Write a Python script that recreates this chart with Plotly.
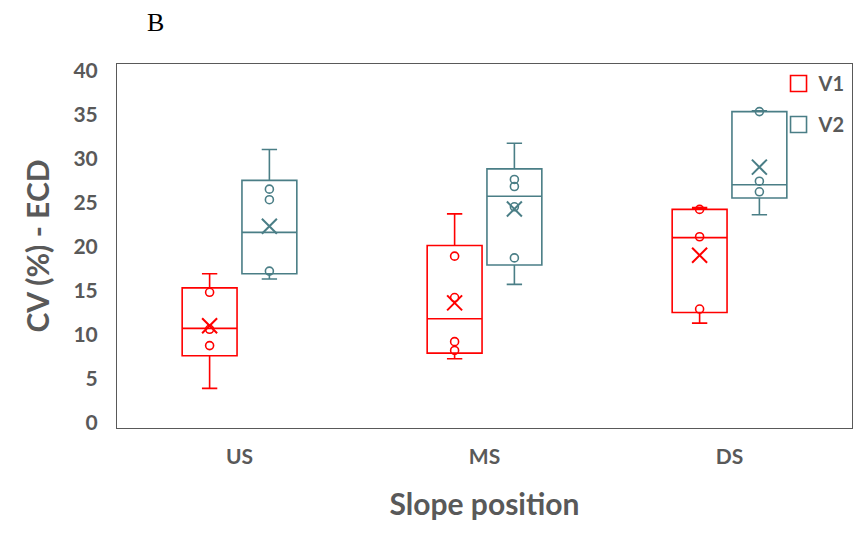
import plotly.graph_objects as go

categories = ["US", "MS", "DS"]
series_names = ["V1", "V2"]
y_ticks = [0, 5, 10, 15, 20, 25, 30, 35, 40]

v1_low = [3.9, 7.25, 11.3]
v1_q1 = [7.6, 7.9, 12.5]
v1_median = [10.7, 11.8, 21.0]
v1_q3 = [15.3, 20.1, 24.2]
v1_high = [16.9, 23.7, 24.4]
v1_mean = [11.0, 13.6, 19.0]
v1_points = [[14.8, 10.6, 8.75], [18.9, 14.2, 9.2, 8.2], [24.2, 21.1, 12.9]]

v2_low = [16.3, 15.7, 23.6]
v2_q1 = [16.9, 17.9, 25.5]
v2_median = [21.6, 25.7, 27.0]
v2_q3 = [27.5, 28.8, 35.3]
v2_high = [31.0, 31.7, 35.4]
v2_mean = [22.3, 24.25, 29.0]
v2_points = [[26.5, 25.3, 17.2], [27.6, 26.8, 24.5, 18.7], [35.3, 27.4, 26.2]]

colors = ["#FF0000", "#4A7E86"]
offsets = [-0.122, 0.122]
box_width = 0.224
font_family = "Lato, 'Open Sans', sans-serif"
gray = "#595959"

fig = go.Figure()

series = [
    (v1_low, v1_q1, v1_median, v1_q3, v1_high, v1_mean, v1_points),
    (v2_low, v2_q1, v2_median, v2_q3, v2_high, v2_mean, v2_points),
]

for s, (low, q1, med, q3, high, mean, pts) in enumerate(series):
    col = colors[s]
    xs = [i + offsets[s] for i in range(len(categories))]
    fig.add_trace(go.Box(
        x=xs, q1=q1, median=med, q3=q3, lowerfence=low, upperfence=high,
        width=box_width, whiskerwidth=0.28,
        line=dict(color=col, width=1.6), fillcolor="rgba(255,255,255,0)",
        showlegend=False, name=series_names[s], boxpoints=False,
    ))
    px, py = [], []
    for i, group in enumerate(pts):
        for v in group:
            px.append(xs[i])
            py.append(v)
    fig.add_trace(go.Scatter(
        x=px, y=py, mode="markers", showlegend=False,
        marker=dict(symbol="circle-open", size=8, color=col, line=dict(width=1.6, color=col)),
    ))
    fig.add_trace(go.Scatter(
        x=xs, y=mean, mode="markers", showlegend=False,
        marker=dict(symbol="x-thin-open", size=15, color=col, line=dict(width=2, color=col)),
    ))
    fig.add_trace(go.Scatter(
        x=[None], y=[None], mode="markers", name=series_names[s], legendgroup=series_names[s],
        marker=dict(symbol="square-open", size=17, color=col, line=dict(width=1.6, color=col)),
    ))

fig.update_layout(
    width=862, height=537,
    margin=dict(l=117, r=10, t=64, b=109),
    paper_bgcolor="white", plot_bgcolor="white",
    font=dict(family=font_family, color=gray),
    showlegend=True,
    legend=dict(
        x=0.998, y=1.0, xanchor="right", yanchor="top",
        font=dict(size=20, color=gray, family=font_family, weight="bold"),
        tracegroupgap=12, bgcolor="rgba(0,0,0,0)", itemwidth=30,
    ),
    xaxis=dict(
        range=[-0.5, 2.5], tickvals=list(range(len(categories))), ticktext=categories,
        showgrid=False, zeroline=False, showline=True, mirror=True,
        linecolor=gray, linewidth=1, ticks="", ticklabelstandoff=10,
        tickfont=dict(size=21, color=gray, family=font_family, weight="bold"),
        title=dict(text="Slope position", font=dict(size=30, color=gray, family=font_family, weight="bold"), standoff=26),
    ),
    yaxis=dict(
        range=[-0.6, 40.7], tickvals=y_ticks,
        showgrid=False, zeroline=False, showline=True, mirror=True,
        linecolor=gray, linewidth=1, ticks="", ticklabelstandoff=14,
        tickfont=dict(size=21, color=gray, family=font_family, weight="bold"),
        title=dict(text="CV (%) - ECD", font=dict(size=30, color=gray, family=font_family, weight="bold"), standoff=14),
    ),
    annotations=[dict(
        text="B", xref="paper", yref="paper", x=0.052, y=1.115, xanchor="center", yanchor="middle",
        showarrow=False, font=dict(family="Liberation Serif, serif", size=26, color="black"),
    )],
)

fig.write_html("out.html")
